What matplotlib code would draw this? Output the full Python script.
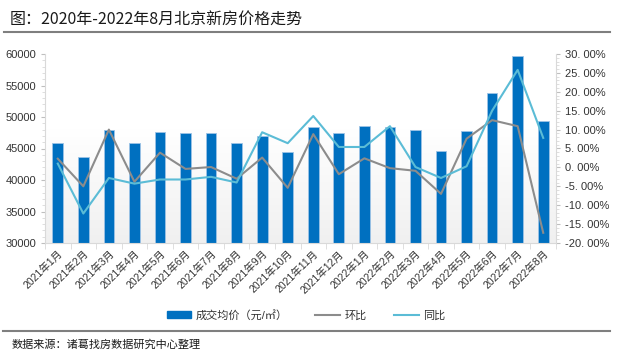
import matplotlib
matplotlib.use("Agg")
import matplotlib.pyplot as plt
import numpy as np
from matplotlib.ticker import MultipleLocator, FixedLocator, FuncFormatter
from matplotlib.patches import Patch
from matplotlib.lines import Line2D
from matplotlib.colors import LinearSegmentedColormap

plt.rcParams['font.family'] = ['Liberation Sans', 'Noto Sans CJK SC', 'DejaVu Sans']

months = ["2021年1月", "2021年2月", "2021年3月", "2021年4月", "2021年5月", "2021年6月",
          "2021年7月", "2021年8月", "2021年9月", "2021年10月", "2021年11月", "2021年12月",
          "2022年1月", "2022年2月", "2022年3月", "2022年4月", "2022年5月", "2022年6月",
          "2022年7月", "2022年8月"]
price = [45900, 43600, 48000, 45900, 47650, 47500, 47500, 45900, 47000, 44400,
         48340, 47500, 48550, 48340, 47900, 44580, 47750, 53750, 59680, 49350]
mom = [2.3, -5.0, 10.0, -3.8, 3.9, -0.4, 0.1, -3.0, 2.6, -5.4,
       8.8, -1.8, 2.4, -0.2, -0.9, -7.0, 7.6, 12.5, 10.9, -17.3]
yoy = [1.0, -12.2, -2.8, -4.3, -3.2, -3.2, -2.5, -4.0, 9.3, 6.4,
       13.6, 5.4, 5.4, 10.9, 0.1, -2.8, 0.3, 15.0, 25.8, 7.8]

W, H = 622, 356
fig = plt.figure(figsize=(W / 100, H / 100), dpi=100)
fig.patch.set_facecolor('white')

ax = fig.add_axes([45 / W, 1 - 243 / H, (556 - 45) / W, (243 - 54) / H])
ax2 = ax.twinx()

# subtle background gradient
grad = np.linspace(0, 1, 256).reshape(-1, 1)
grad = np.clip(grad / 0.6, 0, 1)
cmap = LinearSegmentedColormap.from_list('g', ['#f0f0f0', '#ffffff'])
ax.imshow(grad, extent=[0, 1, 0, 1], transform=ax.transAxes, aspect='auto',
          cmap=cmap, origin='lower', zorder=0)

x = np.arange(len(months))
ax.bar(x, price, width=0.42, color='#0070C0', edgecolor='#9dc3e6', linewidth=0.6, zorder=2)
ax.set_ylim(30000, 60000)
ax.set_xlim(-0.5, len(months) - 0.5)
ax.yaxis.set_major_locator(MultipleLocator(5000))
ax.yaxis.set_minor_locator(MultipleLocator(1000))

ax2.plot(x, mom, color='#8c8c8c', linewidth=1.5, zorder=3)
ax2.plot(x, yoy, color='#5bbcd6', linewidth=1.5, zorder=3)
ax2.set_ylim(-20, 30)
ax2.yaxis.set_major_locator(MultipleLocator(5))
ax2.yaxis.set_minor_locator(MultipleLocator(1))
ax2.yaxis.set_major_formatter(FuncFormatter(lambda v, p: ("%.2f%%" % v).replace('.', '. ')))

ax.set_xticks(x)
ax.set_xticklabels(months, rotation=45, ha='right', va='top', rotation_mode='anchor',
                   fontsize=7.5, color='#333333')
ax.xaxis.set_minor_locator(FixedLocator(np.arange(-0.5, len(months), 1.0)))
ax.tick_params(axis='x', which='major', length=0, pad=4)
ax.tick_params(axis='x', which='minor', length=4, color='#d9d9d9', direction='out')

ax.tick_params(axis='y', which='major', labelsize=8, colors='#333333', length=3, color='#bfbfbf')
ax.tick_params(axis='y', which='minor', length=2, color='#d9d9d9')
ax2.tick_params(axis='y', which='major', labelsize=8, colors='#333333', length=3, color='#bfbfbf')
ax2.tick_params(axis='y', which='minor', length=2, color='#d9d9d9')

for a in (ax, ax2):
    a.spines['top'].set_visible(False)
    a.spines['left'].set_color('#d9d9d9')
    a.spines['right'].set_color('#d9d9d9')
    a.spines['bottom'].set_color('#d9d9d9')
ax.spines['right'].set_visible(False)
ax2.spines['left'].set_visible(False)
ax2.spines['bottom'].set_visible(False)

ax.set_zorder(1)
ax2.set_zorder(2)
ax2.patch.set_visible(False)

# title and rules
fig.text(10 / W, 1 - 20 / H, "图：2020年-2022年8月北京新房价格走势", fontsize=11.5,
         family=['Noto Sans CJK SC', 'DejaVu Sans'], weight='medium',
         color='#1a1a1a', va='center', ha='left')
fig.add_artist(Line2D([4 / W, 610 / W], [1 - 32 / H, 1 - 32 / H], color='#7f7f7f', linewidth=1.5))
fig.add_artist(Line2D([3 / W, 610 / W], [1 - 331 / H, 1 - 331 / H], color='#7f7f7f', linewidth=1.5))
fig.text(12 / W, 1 - 345 / H, "数据来源：诸葛找房数据研究中心整理", fontsize=8,
         color='#1a1a1a', va='center', ha='left')

handles = [Patch(facecolor='#0070C0', edgecolor='#0070C0'),
           Line2D([0], [0], color='#8c8c8c', linewidth=1.5),
           Line2D([0], [0], color='#5bbcd6', linewidth=1.5)]
labels = ["成交均价（元/㎡）", "环比", "同比"]
fig.legend(handles, labels, loc='center', bbox_to_anchor=(306 / W, 1 - 315 / H), ncol=3,
           frameon=False, fontsize=8, handlelength=2.2, handleheight=0.6, columnspacing=2.5,
           handletextpad=0.4, labelcolor='#333333')

fig.savefig("out.png", dpi=100)
